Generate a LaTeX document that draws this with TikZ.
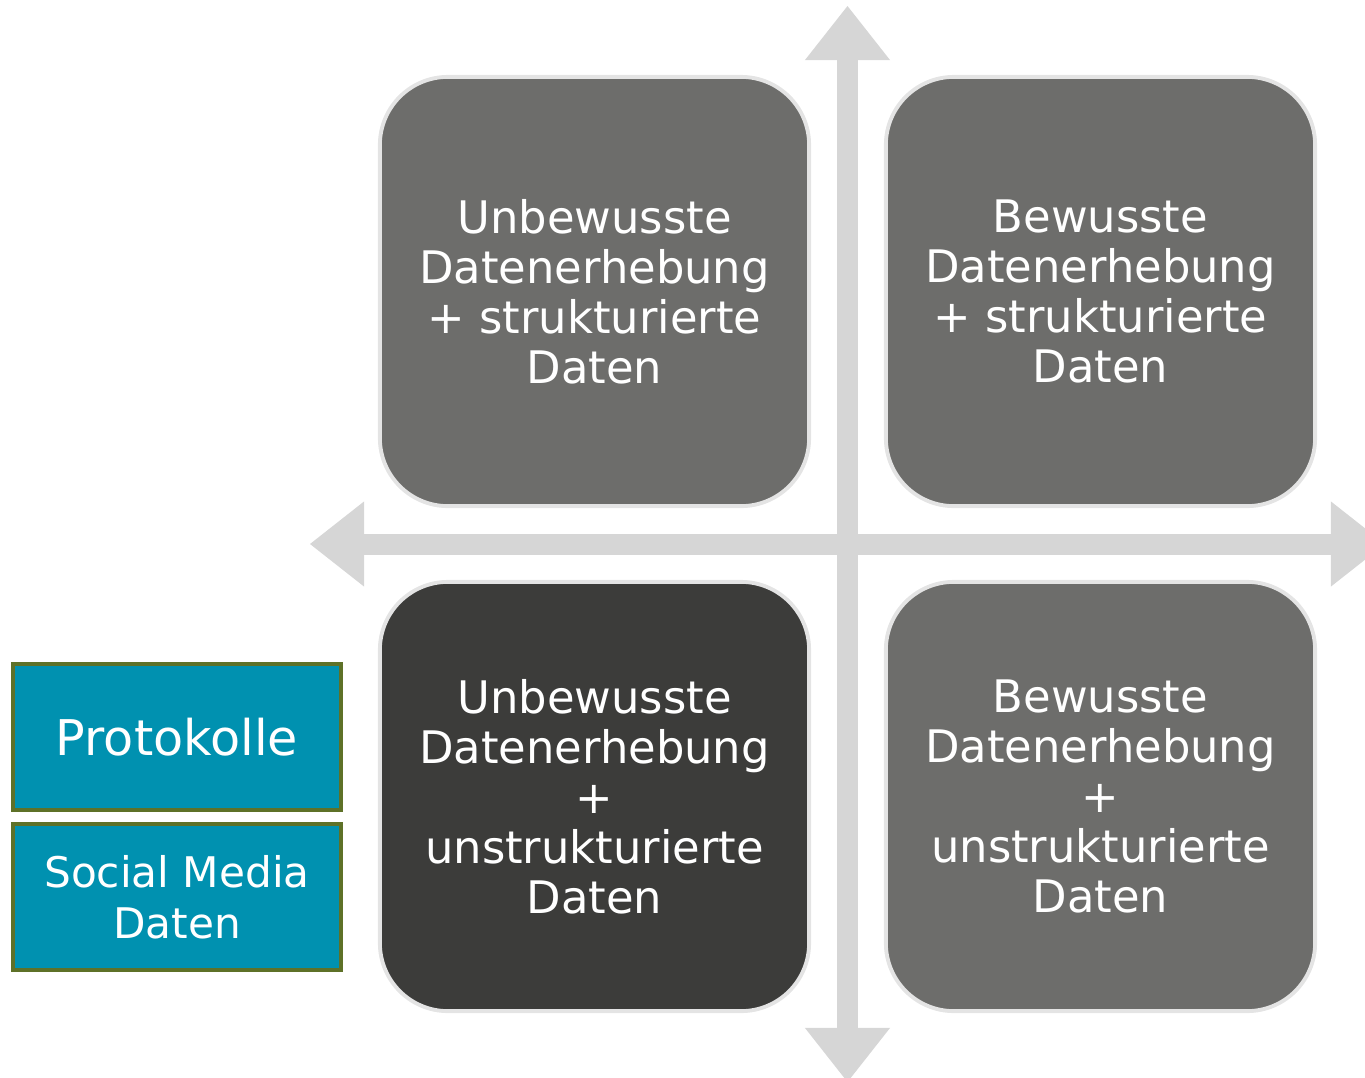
\documentclass[tikz,border=0pt]{standalone}
\usepackage{fontspec}
\setmainfont{DejaVu Sans}
\usetikzlibrary{arrows.meta}
\definecolor{quadgray}{HTML}{6D6D6B}
\definecolor{quaddark}{HTML}{3C3C3A}
\definecolor{quadrim}{HTML}{E4E4E4}
\definecolor{axisgray}{HTML}{D6D6D6}
\definecolor{srcteal}{HTML}{0091B0}
\definecolor{srcrim}{HTML}{5E7128}
\begin{document}
\begin{tikzpicture}[x=0.01cm, y=-0.01cm,
  axis/.style={draw=axisgray, line width=0.21cm,
    {Triangle[width=0.85cm, length=0.54cm, line width=0pt]}-{Triangle[width=0.85cm, length=0.54cm, line width=0pt]}},
  quad/.style={rounded corners=0.68cm, draw=quadrim, line width=1.1pt, fill=quadgray,
    minimum width=4.29cm, minimum height=4.29cm, inner sep=0pt,
    text=white, align=center, font=\fontsize{12.75}{14.2}\selectfont},
  source/.style={draw=srcrim, line width=1pt, fill=srcteal,
    minimum width=3.28cm, minimum height=1.46cm, inner sep=0pt,
    text=white, align=center, font=\fontsize{12}{14.6}\selectfont}]
\useasboundingbox (0,0) rectangle (1365,1078);
% axes
\coordinate (top) at (847.5,6);
\coordinate (bottom) at (847.5,1082);
\coordinate (left) at (310,544);
\coordinate (right) at (1385,544);
\draw[axis] (bottom) -- (top);
\draw[axis] (left) -- (right);
% quadrants
\node[quad] (ul) at (594.5,291.5) {Unbewusste\\Datenerhebung\\+ strukturierte\\Daten};
\node[quad] (ur) at (1100.5,291.5) {Bewusste\\Datenerhebung\\+ strukturierte\\Daten};
\node[quad, fill=quaddark] (ll) at (594.5,796.5) {Unbewusste\\Datenerhebung\\+\\unstrukturierte\\Daten};
\node[quad] (lr) at (1100.5,796.5) {Bewusste\\Datenerhebung\\+\\unstrukturierte\\Daten};
% sources
\node[source, font=\fontsize{14}{16}\selectfont] (prot) at (177,737) {Protokolle};
\node[source] (social) at (177,897) {Social Media\\Daten};
\end{tikzpicture}
\end{document}
